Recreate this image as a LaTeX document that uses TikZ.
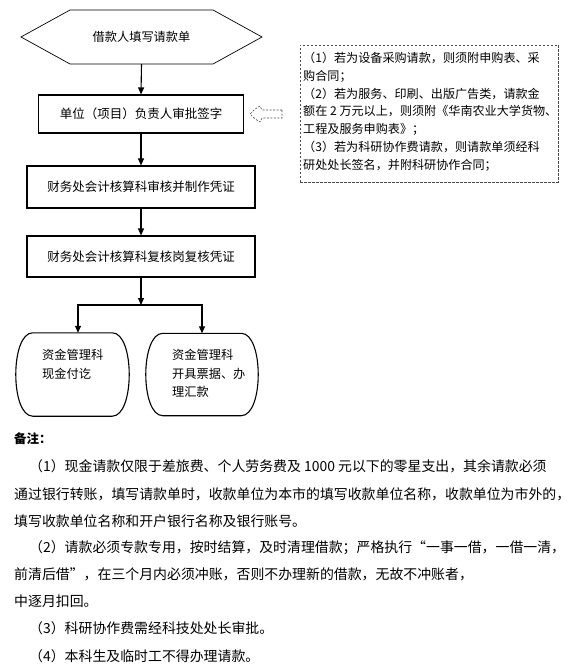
\documentclass[tikz,border=0pt]{standalone}
\usepackage{fontspec}
\setmainfont{Noto Sans CJK SC}
\newfontfamily\cjk{Noto Sans CJK SC}
\usetikzlibrary{arrows.meta}
\tikzset{
  x=1pt, y=-1pt,
  flowbox/.style={draw=black, line width=1.1pt, minimum width=228pt, minimum height=42pt, inner sep=0pt, font=\cjk\fontsize{12.5}{15}\selectfont},
  outline/.style={draw=black, line width=1.1pt},
  thinline/.style={draw=black, line width=0.7pt},
  ghost/.style={draw=none, inner sep=0pt},
  arr/.style={line width=1.1pt, -{Triangle[length=7pt,width=6pt]}},
  notebox/.style={draw=black!70, line width=0.7pt, dash pattern=on 2.5pt off 1.5pt, minimum width=258pt, minimum height=137pt, inner sep=0pt},
  notetext/.style={anchor=north west, inner sep=0pt, align=left, font=\cjk\fontsize{12.1}{17.8}\selectfont},
  blocktext/.style={anchor=north west, inner sep=0pt, align=left, font=\cjk\fontsize{12.2}{18.5}\selectfont},
  noteline/.style={anchor=west, inner sep=0pt, font=\cjk\fontsize{13.9}{16}\selectfont},
}
\begin{document}
\begin{tikzpicture}
\useasboundingbox (0,0) rectangle (585,668);

% hexagon start node
\node[ghost, minimum width=241pt, minimum height=54pt, font=\cjk\fontsize{12.2}{15}\selectfont] (hex) at (141.5,37) {借款人填写请款单};
\draw[thinline] (21,37) -- (70,10) -- (213,10) -- (262,37) -- (213,64) -- (70,64) -- cycle;

% flow boxes
\node[flowbox, minimum width=205pt, minimum height=38pt] (b1) at (141,114) {单位（项目）负责人审批签字};
\node[flowbox] (b2) at (141,187) {财务处会计核算科审核并制作凭证};
\node[flowbox, minimum height=41pt] (b3) at (141,256.5) {财务处会计核算科复核岗复核凭证};

\draw[arr] (hex.south) -- (b1.north);
\draw[arr] (b1.south) -- (b2.north);
\draw[arr] (b2.south) -- (b3.north);

% dashed note box
\node[notebox] (nb) at (429,113.5) {};
\node[notetext] (nbtext) at (303,52) {（1）若为设备采购请款，则须附申购表、采\\
购合同；\\
（2）若为服务、印刷、出版广告类，请款金\\
额在~2~万元以上，则须附《华南农业大学货物、\\
工程及服务申购表》；\\
（3）若为科研协作费请款，则请款单须经科\\
研处处长签名，并附科研协作合同；};

% small dashed block arrow
\draw[draw=black!70, line width=0.6pt, dash pattern=on 2pt off 1.5pt]
  (282,110) -- (262,110) -- (260,106) .. controls (255,109) .. (250,114)
  .. controls (255,119) .. (260,122) -- (262,118) -- (282,118) -- cycle;

% junction and branches
\coordinate (j) at (141,305);
\node[ghost, minimum width=113pt, minimum height=83pt] (cash) at (72.5,374.5) {};
\node[ghost, minimum width=112pt, minimum height=82pt] (wire) at (202,374.5) {};

\foreach \n in {cash,wire}{
  \draw[outline] ([xshift=17pt]\n.north west) -- ([xshift=-17pt]\n.north east)
    .. controls ([xshift=5.7pt]\n.north east) and ([xshift=5.7pt]\n.south east) .. ([xshift=-17pt]\n.south east)
    -- ([xshift=17pt]\n.south west)
    .. controls ([xshift=-5.7pt]\n.south west) and ([xshift=-5.7pt]\n.north west) .. ([xshift=17pt]\n.north west) -- cycle;
}

\draw[arr] (b3.south) -- (j);
\draw[arr] (j) -| ([xshift=5.5pt]cash.north);
\draw[arr] (j) -| (wire.north);

\node[blocktext] (cashtext) at (42,349) {资金管理科\\现金付讫};
\node[blocktext] (wiretext) at (172,349) {资金管理科\\开具票据、办\\理汇款};

% notes
\node[anchor=west, inner sep=0pt, font=\cjk\bfseries\fontsize{12.5}{15}\selectfont] (notehead) at (14,439) {备注：};
\node[noteline] (n1) at (29,466) {（1）现金请款仅限于差旅费、个人劳务费及 1000 元以下的零星支出，其余请款必须};
\node[noteline] (n2) at (14,494) {通过银行转账，填写请款单时，收款单位为本市的填写收款单位名称，收款单位为市外的，};
\node[noteline] (n3) at (14,521) {填写收款单位名称和开户银行名称及银行账号。};
\node[noteline] (n4) at (29,548) {（2）请款必须专款专用，按时结算，及时清理借款；严格执行“一事一借，一借一清，};
\node[noteline] (n5) at (14,574) {前清后借”，在三个月内必须冲账，否则不办理新的借款，无故不冲账者，};
\node[noteline] (n6) at (14,601) {中逐月扣回。};
\node[noteline] (n7) at (29,628) {（3）科研协作费需经科技处处长审批。};
\node[noteline] (n8) at (29,656) {（4）本科生及临时工不得办理请款。};
\end{tikzpicture}
\end{document}
